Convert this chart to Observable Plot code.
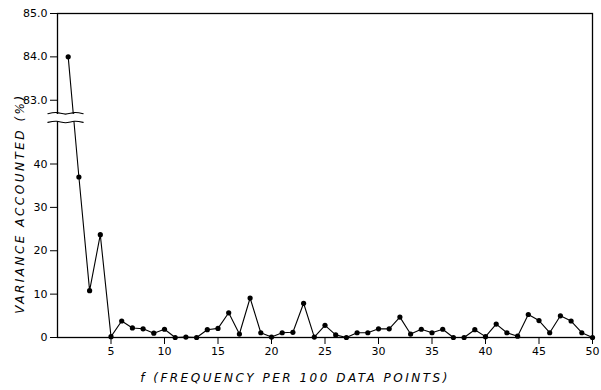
<!DOCTYPE html>
<html><head><meta charset="utf-8">
<script src="https://cdn.jsdelivr.net/npm/d3@7"></script>
<script src="https://cdn.jsdelivr.net/npm/@observablehq/plot@0.6"></script>
<style>body{margin:0;background:#fff}</style>
</head><body><div id="chart"></div>
<script>
// Data
const freq = [1,2,3,4,5,6,7,8,9,10,11,12,13,14,15,16,17,18,19,20,21,22,23,24,25,26,27,28,29,30,31,32,33,34,35,36,37,38,39,40,41,42,43,44,45,46,47,48,49,50];
const variance = [84.0,37.0,10.8,23.7,0.2,3.8,2.2,2.0,1.0,1.9,0.0,0.1,0.0,1.8,2.1,5.7,0.8,9.1,1.1,0.1,1.1,1.2,7.9,0.1,2.8,0.6,0.0,1.1,1.1,2.0,2.0,4.7,0.8,1.9,1.1,1.9,0.0,0.0,1.8,0.2,3.1,1.1,0.3,5.3,3.9,1.1,5.0,3.8,1.1,0.0];
const xTickValues = [5,10,15,20,25,30,35,40,45,50];
const yTickValues = [0,10,20,30,40,83,84,85];
const yTickLabels = ["0","10","20","30","40","83.0","84.0","85.0"];
const xTitle = "f (FREQUENCY PER 100 DATA POINTS)";
const yTitle = "VARIANCE ACCOUNTED (%)";

// Broken y axis: lower segment 0–~50 at one scale, upper segment 82.7–85 at 10× scale
const lowerTop = 49.6;     // top of lower segment (value units)
const upperBottom = 82.69; // bottom of upper segment (value units)
const upperOffset = 54.7, upperFactor = 10, upperBase = 83;
const t = v => v <= 60 ? v : upperOffset + upperFactor * (v - upperBase);

const rows = freq.map((f, i) => ({f, v: variance[i], ty: t(variance[i])}));
const labelOf = new Map(yTickValues.map((v, i) => [t(v), yTickLabels[i]]));
const breaks = [t(lowerTop), t(upperBottom)];
const breakX = [-0.9, 2.4];
const wave = (yy) => {
  const n = 4, pts = [];
  for (let k = 0; k <= n; k++) {
    pts.push({x: breakX[0] + (breakX[1] - breakX[0]) * k / n, y: yy + (k % 2 ? 0.25 : -0.1) * (k === 0 || k === n ? 0 : 1)});
  }
  return pts;
};

const chart = Plot.plot({
  width: 601, height: 390,
  marginLeft: 57, marginRight: 9, marginTop: 13, marginBottom: 53,
  style: {fontFamily: "DejaVu Sans", fontSize: "11px", background: "white", color: "black"},
  x: {domain: [0, 50]},
  y: {domain: [0, t(85)]},
  marks: [
    Plot.frame({stroke: "black", strokeWidth: 1.3}),
    Plot.axisX({ticks: xTickValues, tickSize: 7, tickPadding: 3, label: null, fontSize: 11}),
    Plot.axisY({ticks: yTickValues.map(t), tickFormat: d => labelOf.get(d), tickSize: 7, tickPadding: 3, label: null, fontSize: 11}),
    Plot.line(rows, {x: "f", y: "ty", stroke: "black", strokeWidth: 1.1}),
    Plot.dot(rows, {x: "f", y: "ty", r: 2.6, fill: "black"}),
    Plot.rect([{x1: breakX[0], x2: breakX[1], y1: breaks[0], y2: breaks[1]}], {x1: "x1", x2: "x2", y1: "y1", y2: "y2", fill: "white", insetTop: 0.8, insetBottom: 0.8}),
    Plot.line(wave(breaks[0]), {x: "x", y: "y", stroke: "black", strokeWidth: 1.1, curve: "natural"}),
    Plot.line(wave(breaks[1]), {x: "x", y: "y", stroke: "black", strokeWidth: 1.1, curve: "natural"}),
    Plot.text([xTitle], {frameAnchor: "bottom", textAnchor: "middle", dy: 44, dx: -30, fontStyle: "italic", fontSize: 12, fill: "black"}),
    Plot.text([yTitle], {frameAnchor: "left", textAnchor: "middle", rotate: -90, dx: -37, dy: 28, fontStyle: "italic", fontSize: 12, fill: "black"})
  ]
});
d3.select(chart).selectAll("text").filter(function() { return this.textContent === xTitle || this.textContent === yTitle; })
  .style("letter-spacing", "2.5px");
document.getElementById("chart").append(chart);
</script>
</body></html>
